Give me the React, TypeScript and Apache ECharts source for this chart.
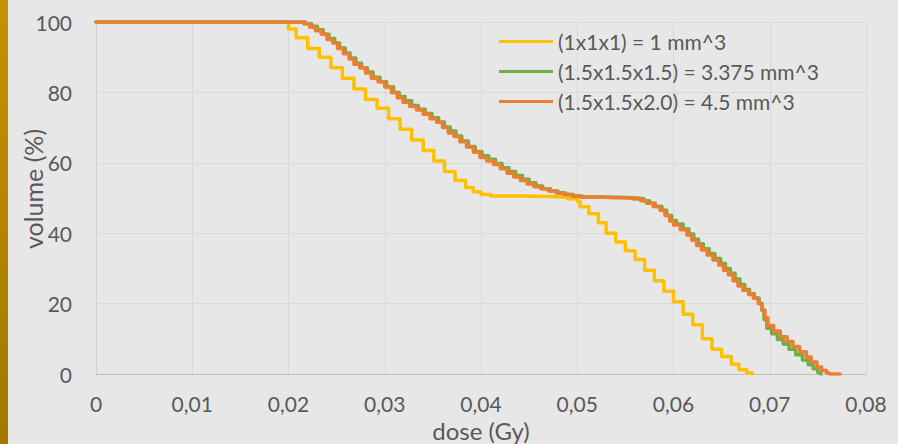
import React, { useEffect, useRef } from "react";
import * as echarts from "echarts";

const seriesNames = [
  "(1x1x1) = 1 mm^3",
  "(1.5x1.5x1.5) = 3.375 mm^3",
  "(1.5x1.5x2.0) = 4.5 mm^3",
];
const seriesColors = ["#FFC000", "#70AD47", "#ED7D31"];

const xAxisTitle = "dose (Gy)";
const yAxisTitle = "volume (%)";
const xTicks = [0, 0.01, 0.02, 0.03, 0.04, 0.05, 0.06, 0.07, 0.08];
const yTicks = [0, 20, 40, 60, 80, 100];

// [dose (Gy), volume (%)] - staircase points (step at each x)
const voxel1: number[][] = [
  [0, 100], [0.0198, 100], [0.0200, 98], [0.0208, 95.5], [0.0220, 92.5], [0.0232, 90],
  [0.0244, 87], [0.0256, 84], [0.0268, 81], [0.0280, 78], [0.0292, 75.5],
  [0.0304, 72.5], [0.0316, 69.5], [0.0328, 66.5], [0.0340, 63.5], [0.0351, 60.5],
  [0.0362, 57.5], [0.0373, 55], [0.0384, 53], [0.0392, 51.8], [0.0400, 51],
  [0.0410, 50.6], [0.0440, 50.4], [0.0470, 50.2], [0.0490, 49.8], [0.0500, 49],
  [0.0503, 47.5], [0.0512, 45.5], [0.0522, 43], [0.0530, 40], [0.0540, 37.5],
  [0.0550, 35], [0.0560, 32.5], [0.0570, 29.5], [0.0580, 26.5], [0.0590, 23.5],
  [0.0600, 20.5], [0.0610, 17], [0.0620, 14], [0.0630, 10], [0.0640, 7],
  [0.0650, 5], [0.0660, 2.8], [0.0668, 1.2], [0.0676, 0.3], [0.0682, 0],
];

const voxel3375: number[][] = [
  [0, 100], [0.0218, 99.5], [0.0224, 98.8], [0.0230, 97.8], [0.0236, 96.5], [0.0242, 95.3],
  [0.0248, 94], [0.0253, 92.6], [0.0259, 91.2], [0.0264, 89.8], [0.0270, 88.3],
  [0.0276, 87], [0.0282, 85.8], [0.0288, 84.3], [0.0295, 83], [0.0302, 81.6],
  [0.0309, 80], [0.0315, 78.8], [0.0321, 77.6], [0.0328, 76.3], [0.0335, 75.2],
  [0.0342, 74], [0.0349, 72.8], [0.0356, 71.6], [0.0362, 70.2], [0.0368, 69],
  [0.0374, 67.6], [0.0380, 66.2], [0.0387, 64.6], [0.0394, 63.2], [0.0401, 62],
  [0.0408, 61], [0.0415, 59.8], [0.0422, 58.6], [0.0429, 57.5], [0.0436, 56.4],
  [0.0443, 55.3], [0.0450, 54.3], [0.0457, 53.4], [0.0464, 52.6], [0.0472, 52],
  [0.0480, 51.4], [0.0488, 51], [0.0496, 50.6], [0.0505, 50.3], [0.0525, 50.2],
  [0.0545, 50], [0.0562, 49.8], [0.0569, 49.2], [0.0575, 48.5], [0.0581, 47.6],
  [0.0588, 46.5], [0.0593, 45], [0.0598, 43.6], [0.0603, 42.6], [0.0610, 41.2],
  [0.0616, 39.8], [0.0621, 38.3], [0.0626, 37], [0.0631, 35.6], [0.0637, 34.2],
  [0.0643, 32.8], [0.0649, 31.4], [0.0654, 30], [0.0659, 28.6], [0.0664, 27],
  [0.0669, 25.4], [0.0674, 24], [0.0679, 22.8], [0.0684, 21.6], [0.0689, 20],
  [0.0692, 18], [0.0694, 15.5], [0.0697, 13], [0.0702, 11.4], [0.0708, 9.8],
  [0.0714, 8.5], [0.0720, 7], [0.0727, 5.5], [0.0734, 4], [0.0740, 2.6],
  [0.0745, 1.5], [0.0750, 0.4], [0.0753, 0],
];

const voxel45: number[][] = [
  [0, 100], [0.0216, 99.5], [0.0222, 98.5], [0.0228, 97.5], [0.0234, 96.5], [0.0240, 95],
  [0.0246, 94], [0.0251, 92.5], [0.0257, 91], [0.0263, 89.5], [0.0268, 88],
  [0.0274, 87], [0.0280, 85.5], [0.0286, 84], [0.0293, 83], [0.0300, 81.5],
  [0.0307, 80], [0.0313, 78.5], [0.0319, 77.2], [0.0326, 76], [0.0333, 75],
  [0.0340, 73.8], [0.0347, 72.5], [0.0354, 71.5], [0.0360, 70], [0.0366, 68.5],
  [0.0372, 67.5], [0.0378, 66], [0.0385, 64.5], [0.0392, 63], [0.0399, 61.5],
  [0.0406, 60.5], [0.0413, 59.5], [0.0420, 58.3], [0.0427, 57], [0.0434, 56],
  [0.0441, 55], [0.0448, 54], [0.0455, 53.2], [0.0462, 52.6], [0.0470, 52],
  [0.0478, 51.4], [0.0486, 51], [0.0494, 50.6], [0.0503, 50.3], [0.0520, 50.1],
  [0.0540, 50], [0.0558, 49.7], [0.0566, 49.2], [0.0572, 48.5], [0.0579, 47.6],
  [0.0586, 46.5], [0.0591, 45], [0.0596, 43.5], [0.0600, 42.3], [0.0607, 41],
  [0.0614, 39.5], [0.0619, 38], [0.0624, 36.5], [0.0629, 35.2], [0.0635, 33.8],
  [0.0641, 32.4], [0.0647, 31], [0.0652, 29.5], [0.0657, 28.2], [0.0662, 26.5],
  [0.0667, 25], [0.0672, 23.8], [0.0678, 22.6], [0.0683, 21.5], [0.0688, 20],
  [0.0692, 18.2], [0.0695, 16], [0.0698, 13.8], [0.0704, 12.2], [0.0711, 10.6],
  [0.0718, 9.2], [0.0724, 7.8], [0.0731, 6.3], [0.0738, 4.8], [0.0743, 3.4],
  [0.0749, 2], [0.0754, 1], [0.0759, 0.3], [0.0762, 0], [0.0773, 0],
];

const seriesData = [voxel1, voxel3375, voxel45];

const FONT = "Lato, 'Open Sans', sans-serif";
const TEXT = "#595959";

export default function App() {
  const ref = useRef<HTMLDivElement>(null);
  useEffect(() => {
    document.body.style.margin = "0";
    if (!ref.current) return;
    const chart = echarts.init(ref.current, null, { renderer: "svg" });
    chart.setOption({
      animation: false,
      backgroundColor: "#E7E7E7",
      textStyle: { fontFamily: FONT },
      graphic: [
        {
          type: "rect",
          left: 0,
          top: 0,
          shape: { width: 8, height: 444 },
          style: {
            fill: new echarts.graphic.LinearGradient(0, 0, 0, 1, [
              { offset: 0, color: "#C49300" },
              { offset: 1, color: "#A27700" },
            ]),
          },
          silent: true,
        },
        {
          type: "text",
          x: 481,
          y: 430,
          silent: true,
          style: {
            text: xAxisTitle,
            fill: TEXT,
            font: `24px ${FONT}`,
            lineHeight: 24,
            textAlign: "center",
            textVerticalAlign: "middle",
          },
        },
        {
          type: "text",
          x: 33,
          y: 189,
          rotation: Math.PI / 2,
          silent: true,
          style: {
            text: yAxisTitle,
            fill: TEXT,
            font: `25px ${FONT}`,
            textAlign: "center",
            textVerticalAlign: "middle",
          },
        },
      ],
      grid: { left: 96, right: 32, top: 22, bottom: 70, containLabel: false, outerBoundsMode: "none" },
      legend: {
        orient: "vertical",
        left: 499,
        top: 31,
        itemWidth: 54,
        itemHeight: 3,
        itemGap: 9,
        icon: "rect",
        padding: 0,
        data: seriesNames,
        textStyle: { color: TEXT, fontSize: 21, fontFamily: FONT, padding: 0, lineHeight: 21 },
      },
      xAxis: {
        type: "value",
        min: 0,
        max: 0.08,
        interval: 0.01,
        axisLine: { show: true, lineStyle: { color: "#BFBFBF", width: 1 } },
        axisTick: { show: false },
        axisLabel: {
          color: TEXT,
          fontSize: 21,
          lineHeight: 21,
          fontFamily: FONT,
          margin: 19,
          formatter: (v: number) => {
            const t = xTicks.find((x) => Math.abs(x - v) < 1e-9);
            const val = t === undefined ? v : t;
            return val === 0 ? "0" : val.toFixed(2).replace(".", ",");
          },
        },
        splitLine: { show: true, lineStyle: { color: "#D9D9D9", width: 1 } },
      },
      yAxis: {
        type: "value",
        min: yTicks[0],
        max: yTicks[yTicks.length - 1],
        interval: 20,
        axisLine: { show: true, lineStyle: { color: "#D0D0D0", width: 1 } },
        axisTick: { show: false },
        axisLabel: { color: TEXT, fontSize: 21, fontFamily: FONT, margin: 24 },
        splitLine: { show: true, lineStyle: { color: "#D9D9D9", width: 1 } },
      },
      series: seriesNames.map((name, i) => ({
        name,
        type: "line",
        step: "end",
        data: seriesData[i],
        showSymbol: false,
        symbol: "none",
        color: seriesColors[i],
        lineStyle: { color: seriesColors[i], width: 3.5, join: "round", cap: "round" },
        z: 2 + i,
      })),
    });
    return () => chart.dispose();
  }, []);
  return <div ref={ref} style={{ width: 898, height: 444 }} />;
}
